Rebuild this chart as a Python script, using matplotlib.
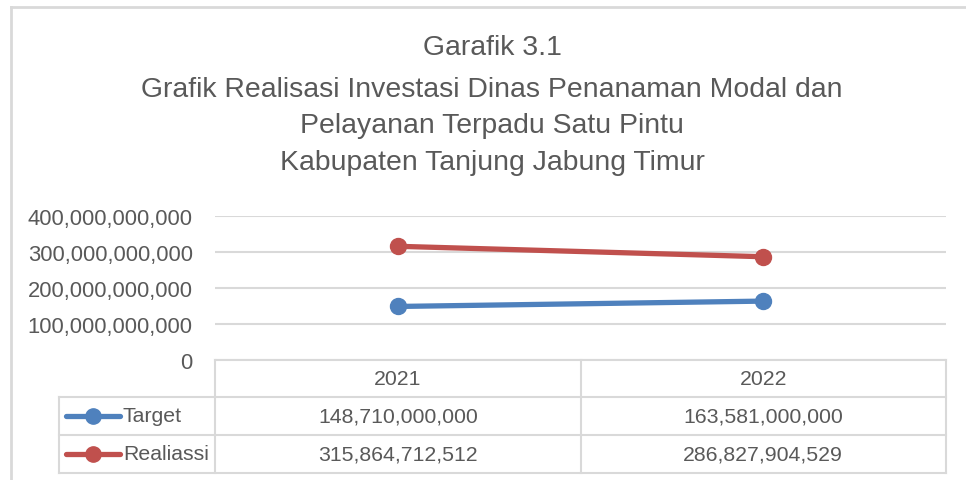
import matplotlib
matplotlib.use("Agg")
import matplotlib.pyplot as plt
from matplotlib.lines import Line2D

# data
years = ["2021", "2022"]
target = [148710000000, 163581000000]
realisasi = [315864712512, 286827904529]
series_names = ["Target", "Realiassi"]
title_lines = ["Garafik 3.1",
               "Grafik Realisasi Investasi Dinas Penanaman Modal dan",
               "Pelayanan Terpadu Satu Pintu",
               "Kabupaten Tanjung Jabung Timur"]
yticks = [0, 100e9, 200e9, 300e9, 400e9]

W, H = 966, 481
blue = "#4F81BD"
red = "#C0504D"
grey_txt = "#595959"
grid_c = "#D9D9D9"
plt.rcParams['font.family'] = ['Liberation Sans', 'DejaVu Sans']

fig = plt.figure(figsize=(W / 100, H / 100), dpi=100)


def fx(x):
    return x / W


def fy(y):
    return 1 - y / H


def hline(x0, x1, y, color=grid_c, lw=1.5):
    fig.add_artist(Line2D([fx(x0), fx(x1)], [fy(y), fy(y)], color=color, lw=lw))


def vline(x, y0, y1, color=grid_c, lw=1.5):
    fig.add_artist(Line2D([fx(x), fx(x)], [fy(y0), fy(y1)], color=color, lw=lw))


# chart frame (only top and left visible)
hline(11, W, 8, lw=2)
vline(11, 8, H, lw=2)

ax_l, ax_r, ax_t, ax_b = 215, 946, 217, 361
ax = fig.add_axes([fx(ax_l), fy(ax_b), fx(ax_r - ax_l), (ax_b - ax_t) / H])
ax.set_xlim(-0.5, len(years) - 0.5)
ax.set_ylim(0, 400e9)
for s in ax.spines.values():
    s.set_visible(False)
ax.set_yticks(yticks)
ax.set_yticklabels([f"{int(v):,}" for v in yticks])
ax.tick_params(axis='y', length=0, pad=16, labelsize=15.8, labelcolor=grey_txt)
ax.set_xticks([])
ax.grid(axis='y', color=grid_c, lw=1.5)
ax.set_axisbelow(True)

xs = list(range(len(years)))
ax.plot(xs, target, color=blue, lw=3.8, marker='o', ms=11.5, solid_capstyle='round', clip_on=False)
ax.plot(xs, realisasi, color=red, lw=3.8, marker='o', ms=11.5, solid_capstyle='round', clip_on=False)

# title
ty = [48, 90, 126, 163]
for t, y in zip(title_lines, ty):
    fig.text(fx(492), fy(y), t, ha='center', va='center', fontsize=20.4, color=grey_txt)

# data table
rows = [361, 398, 436, 474]
tab_left = 59
col_x = [ax_l + (ax_r - ax_l) * i / len(years) for i in range(len(years) + 1)]
hline(ax_l, ax_r, rows[0])
for y in rows[1:]:
    hline(tab_left, ax_r, y)
for x in col_x:
    vline(x, rows[0], rows[-1])
vline(tab_left, rows[1], rows[-1])

for i, yr in enumerate(years):
    cx = (col_x[i] + col_x[i + 1]) / 2
    fig.text(fx(cx), fy((rows[0] + rows[1]) / 2), yr, ha='center', va='center',
             fontsize=15.3, color=grey_txt)

for r, (name, vals, c) in enumerate(zip(series_names, [target, realisasi], [blue, red])):
    cy = (rows[r + 1] + rows[r + 2]) / 2
    fig.add_artist(Line2D([fx(66), fx(120)], [fy(cy), fy(cy)], color=c, lw=3.8,
                          solid_capstyle='round'))
    fig.add_artist(Line2D([fx(93)], [fy(cy)], color=c, marker='o', ms=11))
    fig.text(fx(123), fy(cy), name, ha='left', va='center', fontsize=15.3, color=grey_txt)
    for i, v in enumerate(vals):
        cx = (col_x[i] + col_x[i + 1]) / 2
        fig.text(fx(cx), fy(cy), f"{v:,}", ha='center', va='center',
                 fontsize=15.3, color=grey_txt)

fig.savefig("out.png", dpi=100)
